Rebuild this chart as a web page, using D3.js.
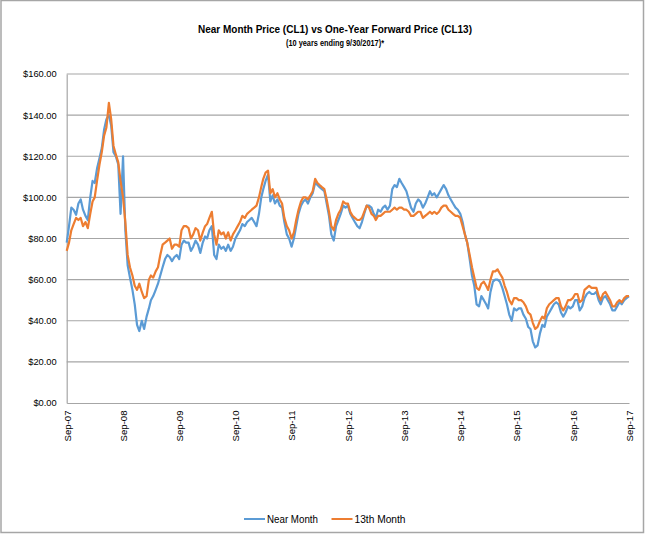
<!DOCTYPE html>
<html>
<head>
<meta charset="utf-8">
<script src="https://cdn.jsdelivr.net/npm/d3@7"></script>
<style>
  body { margin: 0; background: #fff; }
  text { font-family: "Liberation Sans", Arial, sans-serif; fill: #000; }
</style>
</head>
<body>
<script>
var wi = 646;
var he = 534;

// samples on the 1st and 16th of every month, Sep 2007 .. Sep 2017
var firstMonth = "2007-09";
var nearMonth = [
  78, 86, 95, 94, 91.5, 97, 99, 94, 91, 89, 100, 108, 107, 114, 119, 124, 133, 138, 140, 135, 122, 120, 116, 92,
  120, 84, 67, 61, 55, 48, 38, 35, 40, 36, 42, 46, 50, 52, 55, 58, 62, 66, 70, 72, 71, 69, 71, 72,
  70, 77, 79, 78, 78, 74, 76, 79, 77, 73, 78, 81, 80, 84, 86, 72, 70, 77, 75, 76, 74, 77, 74, 76,
  80, 82, 84, 87, 86, 88, 89, 90, 88, 86, 92, 100, 104, 108, 111, 98, 101, 97, 99, 96, 95, 88, 82, 80,
  76, 80, 86, 92, 96, 98, 99, 97, 100, 102, 107, 106, 105, 104, 103, 97, 91, 82, 79, 86, 89, 92, 96, 95,
  96, 92, 90, 88, 86, 85, 88, 92, 96, 96, 95, 92, 90, 94, 93, 95, 96, 94, 96, 104, 106, 105, 109, 107,
  105, 103, 99, 95, 93, 97, 99, 98, 95, 97, 100, 103, 101, 102, 100, 102, 104, 106, 104, 101, 99, 97, 95, 94,
  92, 88, 82, 78, 70, 62, 57, 48, 47, 52, 50, 48, 46, 54, 59, 60, 60, 59, 56, 52, 48, 43, 40, 46,
  45, 46, 46, 43, 41, 37, 36, 30, 27, 28, 34, 38, 37, 42, 44, 46, 48, 49, 48, 44, 42, 44, 47, 46,
  47, 50, 50, 45, 47, 51, 53, 54, 53, 53, 54, 50, 48, 51, 52, 50, 48, 45, 45, 47, 49, 48, 50, 51,
  52
];
var thirteenthMonth = [
  74, 78, 84, 87, 90, 89, 90, 86, 88, 85, 92, 98, 100, 108, 116, 122, 130, 134, 146, 138, 125, 121, 117, 108,
  100, 88, 72, 66, 62, 57, 55, 58, 54, 51, 52, 60, 62, 61, 64, 66, 72, 77, 78, 79, 80, 75, 77, 77,
  76, 84, 86, 86, 85, 80, 82, 85, 84, 79, 83, 86, 87, 90, 93, 82, 77, 84, 82, 83, 80, 83, 79, 82,
  84, 86, 88, 91, 90, 92, 93, 94, 95, 96, 100, 105, 109, 112, 113, 102, 104, 100, 102, 99, 97, 90, 86, 84,
  80, 83, 89, 94, 98, 100, 100, 99, 101, 103, 109, 107, 106, 105, 104, 99, 93, 86, 84, 89, 92, 94, 98, 97,
  97, 93, 91, 90, 89, 89, 90, 93, 96, 95, 92, 91, 89, 91, 91, 92, 93, 93, 93, 94, 95, 94, 95, 95,
  94, 94, 93, 91, 91, 92, 93, 93, 90, 91, 92, 93, 92, 93, 92, 93, 95, 96, 96, 94, 93, 92, 91, 91,
  90, 86, 82, 78, 72, 66, 61, 56, 55, 58, 59, 57, 55, 60, 64, 64, 65, 63, 61, 57, 54, 50, 48, 51,
  51, 50, 50, 49, 47, 44, 43, 39, 36, 37, 40, 42, 41, 46, 48, 49, 50, 51, 51, 47, 45, 47, 50, 50,
  51, 53, 53, 49, 50, 55, 56, 57, 56, 56, 56, 52, 50, 53, 54, 52, 50, 47, 47, 49, 50, 49, 51, 52,
  52
];
var yTicks = [0, 20, 40, 60, 80, 100, 120, 140, 160];
var xTicks = ["2007-09", "2008-09", "2009-09", "2010-09", "2011-09", "2012-09",
              "2013-09", "2014-09", "2015-09", "2016-09", "2017-09"];
var seriesNames = ["Near Month", "13th Month"];
var seriesColors = ["#5b9bd5", "#ed7d31"];

var parseMonth = d3.timeParse("%Y-%m");
var start = parseMonth(firstMonth);

function sampleDate(i) {
  var m = d3.timeMonth.offset(start, Math.floor(i / 2));
  return i % 2 ? d3.timeDay.offset(m, 15) : m;
}

var plot = { left: 66.7, right: 629, top: 74, bottom: 403 };

var xScale = d3.scaleTime()
    .domain([parseMonth(xTicks[0]), parseMonth(xTicks[xTicks.length - 1])])
    .range([plot.left, plot.right]);
var yScale = d3.scaleLinear()
    .domain([0, 160])
    .range([plot.bottom, plot.top]);

var svg = d3.select("body").append("svg")
    .attr("width", wi)
    .attr("height", he);

// chart frame
svg.append("rect")
    .attr("x", 1).attr("y", 0.5)
    .attr("width", 642.5).attr("height", 532)
    .attr("fill", "#fff")
    .attr("stroke", "#a6a6a6")
    .attr("stroke-width", 1.5);

// title (squeezed a little, the original face is narrower)
svg.append("text")
    .attr("x", 335).attr("y", 33)
    .attr("text-anchor", "middle")
    .attr("font-weight", "bold")
    .attr("font-size", 11)
    .attr("textLength", 274)
    .attr("lengthAdjust", "spacingAndGlyphs")
    .text("Near Month Price (CL1) vs One-Year Forward Price (CL13)");
svg.append("text")
    .attr("x", 335).attr("y", 45.5)
    .attr("text-anchor", "middle")
    .attr("font-weight", "bold")
    .attr("font-size", 8.2)
    .attr("textLength", 98)
    .attr("lengthAdjust", "spacingAndGlyphs")
    .text("(10 years ending  9/30/2017)*");

// gridlines
svg.append("g").selectAll("line")
    .data(yTicks.slice(1))
    .enter()
    .append("line")
    .attr("x1", plot.left).attr("x2", plot.right)
    .attr("y1", function(d) { return yScale(d); })
    .attr("y2", function(d) { return yScale(d); })
    .attr("stroke", "#a6a6a6")
    .attr("stroke-width", 1.2);

// y axis
var yAxis = d3.axisLeft(yScale)
    .tickValues(yTicks)
    .tickSize(0)
    .tickPadding(10)
    .tickFormat(function(d) { return "$" + d.toFixed(2); });
var gy = svg.append("g")
    .attr("transform", "translate(" + plot.left + ",0)")
    .call(yAxis);
gy.select(".domain").attr("stroke", "#a6a6a6").attr("stroke-width", 1.2);
gy.selectAll("text").attr("font-size", 9.3).attr("font-family", null);

// x axis
var xAxis = d3.axisBottom(xScale)
    .tickValues(xTicks.map(parseMonth))
    .tickSize(0)
    .tickFormat(d3.timeFormat("%b-%y"));
var gx = svg.append("g")
    .attr("transform", "translate(0," + plot.bottom + ")")
    .call(xAxis);
gx.select(".domain").attr("stroke", "#a6a6a6").attr("stroke-width", 1.2);
gx.selectAll("text")
    .attr("font-size", 9.6)
    .attr("font-family", null)
    .attr("text-anchor", "end")
    .attr("transform", "rotate(-90)")
    .attr("x", -7.5)
    .attr("y", 0)
    .attr("dy", "0.35em");

// series
var line = d3.line()
    .x(function(d, i) { return xScale(sampleDate(i)); })
    .y(function(d) { return yScale(d); });

[nearMonth, thirteenthMonth].forEach(function(values, s) {
  svg.append("path")
      .datum(values)
      .attr("fill", "none")
      .attr("stroke", seriesColors[s])
      .attr("stroke-width", 2.2)
      .attr("stroke-linejoin", "round")
      .attr("d", line);
});

// legend
var legendX = [244, 331.5];
var legend = svg.append("g").selectAll("g")
    .data(seriesNames)
    .enter()
    .append("g")
    .attr("transform", function(d, i) { return "translate(" + legendX[i] + ",519)"; });
legend.append("line")
    .attr("x1", 0).attr("x2", 21)
    .attr("stroke", function(d, i) { return seriesColors[i]; })
    .attr("stroke-width", 2);
legend.append("text")
    .attr("x", 23)
    .attr("dy", "0.35em")
    .attr("font-size", 10)
    .attr("textLength", 51)
    .attr("lengthAdjust", "spacingAndGlyphs")
    .text(function(d) { return d; });
</script>
</body>
</html>
